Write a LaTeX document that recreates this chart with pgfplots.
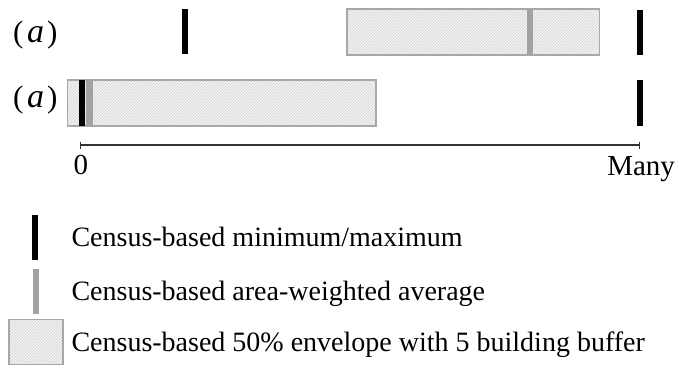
\documentclass[border=0pt]{standalone}
\usepackage{fontspec}
\setmainfont{Liberation Serif}
\usepackage{pgfplots}
\pgfplotsset{compat=1.18}
\usetikzlibrary{patterns}

\definecolor{boxfill}{HTML}{F4F4F4}
\definecolor{boxedge}{HTML}{A8A8A8}
\definecolor{hatch}{HTML}{D0D0D0}
\definecolor{avggray}{HTML}{A2A2A2}
\definecolor{axisgray}{HTML}{333333}

% Positions on the 0 (none) .. 100 (many) scale; y values are row offsets
\pgfplotsset{
  envelope/.style={draw=boxedge, line width=1.3pt, fill=boxfill,
    postaction={pattern=north east lines, pattern color=hatch}},
  minmax/.style={black, line width=6.5pt, line cap=butt},
  average/.style={avggray, line width=6.5pt, line cap=butt},
}

\begin{document}
\begin{tikzpicture}[font=\fontsize{28}{33}\selectfont]
\begin{axis}[
  width=679pt, height=369pt, scale only axis,
  xmin=-14.49, xmax=106.98,
  ymin=0, ymax=369, y dir=reverse,
  hide axis, clip=false,
  legend cell align=left,
  legend style={at={(axis description cs:0.0118,0.4255)}, anchor=north west,
    draw=none, fill=none, inner sep=0pt, row sep=2pt, column sep=8pt,
    nodes={inner sep=0pt}, font=\fontsize{28}{33}\selectfont},
]
% keep the full drawing area in the picture
\path[draw=none, fill=none] (rel axis cs:0,0) rectangle (rel axis cs:1,1);

% --- row 1 ---
\addplot[envelope, forget plot]
  coordinates {(47.6,9) (92.8,9) (92.8,55) (47.6,55)} -- cycle;
\addplot[average, forget plot] coordinates {(80.3,9) (80.3,55)};
\addplot[minmax, forget plot] coordinates {(18.6,9) (18.6,54)};
\addplot[minmax, forget plot] coordinates {(100,10) (100,55)};
% --- row 2 ---
\addplot[envelope, forget plot]
  coordinates {(-2.4,80) (52.8,80) (52.8,126) (-2.4,126)} -- cycle;
\addplot[average, forget plot] coordinates {(1.5,80) (1.5,126)};
\addplot[minmax, forget plot] coordinates {(0.2,80) (0.2,126)};
\addplot[minmax, forget plot] coordinates {(100,80) (100,126)};
% --- scale from 0 to many ---
\addplot[axisgray, line width=1.2pt, mark=|, mark size=3.5pt,
  mark options={line width=1pt}, forget plot]
  coordinates {(0,145) (100,145)};

% --- legend ---
\addlegendimage{legend image code/.code={
    \path[draw=none, fill=none] (0pt,-22.5pt) rectangle (54pt,22.5pt);
    \draw[black, line width=6.5pt, line cap=butt] (26pt,-22.5pt) -- (26pt,22.5pt);}}
\addlegendentry{Census-based minimum/maximum}
\addlegendimage{legend image code/.code={
    \path[draw=none, fill=none] (0pt,-22.5pt) rectangle (54pt,22.5pt);
    \draw[avggray, line width=6.5pt, line cap=butt] (27pt,-22.5pt) -- (27pt,22.5pt);}}
\addlegendentry{Census-based area-weighted average}
\addlegendimage{legend image code/.code={
    \path[draw=boxedge, line width=1.3pt, fill=boxfill,
      postaction={pattern=north east lines, pattern color=hatch}]
      (0pt,-22.5pt) rectangle (54pt,22.5pt);}}
\addlegendentry{Census-based 50\% envelope with 5 building buffer}

\node[anchor=base, font=\fontsize{29}{34}\selectfont] at (axis cs:0,174) {0};
\node[anchor=base, font=\fontsize{29}{34}\selectfont] at (axis cs:100.2,175) {Many};
\node[anchor=base west, inner sep=0pt, font=\fontsize{31}{36}\selectfont]
  at (axis cs:-12.16,42) {(\kern3.5pt{\fontsize{34}{36}\selectfont\textit{a}}\kern3pt)};
\node[anchor=base west, inner sep=0pt, font=\fontsize{31}{36}\selectfont]
  at (axis cs:-12.16,107) {(\kern3.5pt{\fontsize{34}{36}\selectfont\textit{a}}\kern3pt)};
\end{axis}
\end{tikzpicture}
\end{document}
